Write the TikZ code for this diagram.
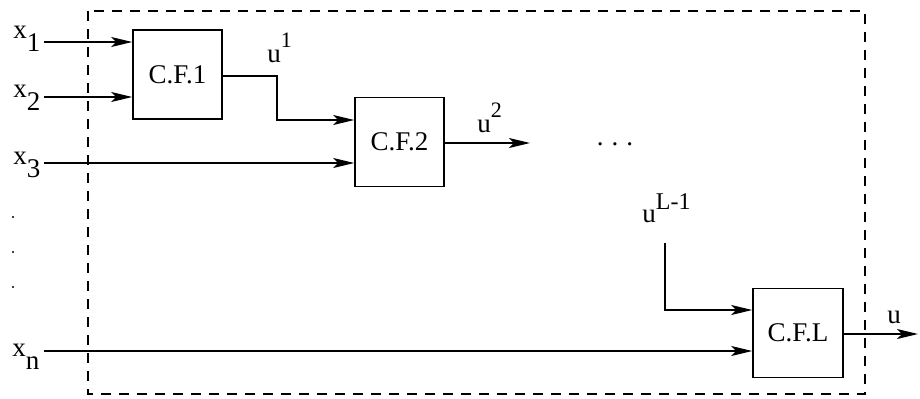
\documentclass[tikz,border=0pt]{standalone}
\usepackage{fontspec}
\setmainfont{Liberation Serif}
\usetikzlibrary{arrows.meta}
\newcommand\lsub[1]{\raisebox{-0.5em}{#1}}
\newcommand\lsup[1]{\raisebox{0.55em}{\fontsize{11}{12}\selectfont #1}}
\begin{document}
\begin{tikzpicture}[x=0.5pt,y=-0.5pt,
  font=\fontsize{13.5}{15}\selectfont,
  cfbox/.style={draw,line width=0.8pt,rectangle,inner sep=0pt,minimum width=44.5pt,minimum height=44.5pt},
  lbl/.style={anchor=base west,inner sep=0pt},
  conn/.style={line width=0.75pt},
  arr/.style={conn,-{Stealth[length=10.5pt,width=5pt,inset=2.5pt]}},
  frame/.style={dashed,dash pattern=on 5pt off 4pt,line width=0.6pt}]
\useasboundingbox (0,0) rectangle (920,398);
% dashed boundary
\draw[frame] (88,11) rectangle (865,394);
% blocks
\node[cfbox] (cf1) at (177.5,74.5) {C.F.1};
\node[cfbox] (cf2) at (399.5,142) {C.F.2};
\node[cfbox,minimum width=45pt] (cfl) at (798,333) {C.F.L};
% input labels
\node[lbl] (lx1) at (13,38) {x\lsub{1}};
\node[lbl] (lx2) at (13,97) {x\lsub{2}};
\node[lbl] (lx3) at (13,164) {x\lsub{3}};
\node[lbl] (lxn) at (12,356) {x\lsub{n}};
% vertical dots
\fill (13,217) circle (1.2);
\fill (13,252) circle (1.2);
\fill (13,287) circle (1.2);
% input start points
\coordinate (s1) at (44,42);
\coordinate (s2) at (44,97);
\coordinate (s3) at (44,163);
\coordinate (sn) at (44,351);
\draw[arr] (s1) -- (cf1.west |- s1);
\draw[arr] (s2) -- (cf1.west |- s2);
\draw[arr] (s3) -- (cf2.west |- s3);
\draw[arr] (sn) -- (cfl.west |- sn);
% u1
\coordinate (u1a) at (222,76);
\coordinate (u1b) at (277,76);
\coordinate (u1c) at (277,120);
\draw[arr] (cf1.east |- u1a) -- (u1b) -- (u1c) -- (cf2.west |- u1c);
\node[lbl] (lu1) at (267,62) {u\lsup{1}};
% u2
\coordinate (u2e) at (530,143);
\draw[arr] (cf2.east |- u2e) -- (u2e);
\node[lbl] (lu2) at (477,132) {u\lsup{2}};
% dots
\node[anchor=base,inner sep=0pt] (dots) at (615,145) {.\hspace{4pt}.\hspace{4pt}.};
% uL-1
\node[lbl] (lul) at (642,222) {u\raisebox{0.45em}{\fontsize{12}{13}\selectfont L-1}};
\coordinate (ula) at (665,243);
\coordinate (ulb) at (665,310);
\draw[arr] (ula) -- (ulb) -- (cfl.west |- ulb);
% output
\coordinate (oute) at (918,334);
\draw[arr] (cfl.east |- oute) -- (oute);
\node[lbl] (lu) at (887,323) {u};
\end{tikzpicture}
\end{document}
